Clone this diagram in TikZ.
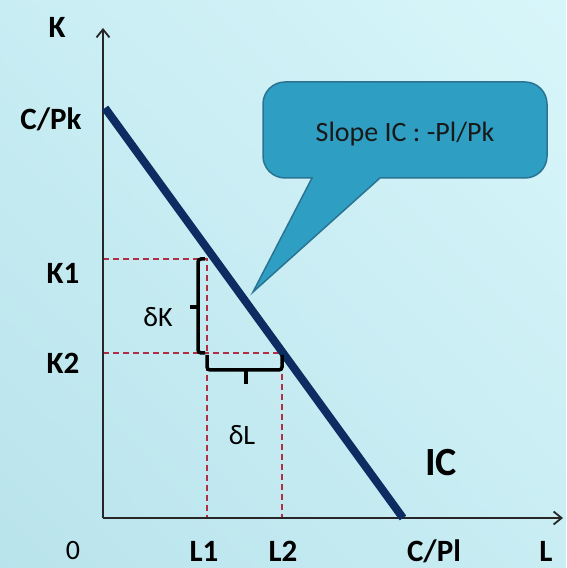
\documentclass[tikz,border=0pt]{standalone}
\usepackage{fontspec}
\setmainfont{Carlito}
\usetikzlibrary{arrows.meta,shadings}
\definecolor{bgdark}{HTML}{B9E3EC}
\definecolor{bglight}{HTML}{D8F6FA}
\definecolor{bgmid}{HTML}{C8EDF3}
\definecolor{icnavy}{HTML}{0C2C62}
\definecolor{guidered}{HTML}{B02E46}
\definecolor{calloutfill}{HTML}{2F9EC3}
\definecolor{calloutedge}{HTML}{2A7393}
\begin{document}
\begin{tikzpicture}[
  x=1pt, y=1pt,
  axis/.style={draw=black!85, line width=2pt, -{Straight Barb[length=8pt,width=13pt,line width=1.8pt]}},
  icline/.style={draw=icnavy, line width=8pt},
  guide/.style={draw=guidered, line width=1.2pt, dash pattern=on 6pt off 4pt},
  bracebar/.style={draw=black, line width=3.5pt, rounded corners=3pt},
  lbl/.style={font=\fontsize{31}{33}\selectfont\bfseries, inner sep=0pt},
  note/.style={font=\fontsize{28}{30}\selectfont, inner sep=0pt},
  callout/.style={fill=calloutfill, draw=calloutedge, line width=1.5pt}
]
\shade[lower left=bgdark, upper right=bglight, upper left=bgmid, lower right=bgmid]
  (0,0) rectangle (566,568);
\useasboundingbox (0,0) rectangle (566,568);

\coordinate (O) at (103,50);
\coordinate (ytop) at (103,540);
\coordinate (xend) at (563,50);
\coordinate (cpk) at (105,460);
\coordinate (cpl) at (403,50);
\coordinate (k1) at (103,309);
\coordinate (k2) at (103,215);
\coordinate (p1) at (207,309);
\coordinate (p2) at (282,215);
\coordinate (l1) at (207,50);
\coordinate (l2) at (282,50);

\draw[guide] (k1) -- (p1) -- (l1);
\draw[guide] (k2) -- (p2) -- (l2);

\draw[axis] (O) -- (ytop);
\draw[axis] (O) -- (xend);
\draw[icline] (cpk) -- (cpl);

\draw[bracebar] (205,309) -- (198,309) -- (198,215) -- (205,215);
\draw[bracebar, rounded corners=0pt] (198,261) -- (190,261);
\draw[bracebar] (207,213) -- (207,198) -- (282,198) -- (282,213);
\draw[bracebar, rounded corners=0pt] (246,198) -- (246,184);

\draw[callout] (312,390) -- (253,276) -- (380,390) [rounded corners=22pt] -- (547,390) -- (547,486)
  -- (263,486) -- (263,390) [sharp corners] -- cycle;
\node[note, text=black!90] (slope) at (405,434) {Slope IC : -Pl/Pk};

\node[lbl] (kname) at (57,541) {K};
\node[lbl] (cpkname) at (51,449) {C/Pk};
\node[lbl] (k1name) at (63,295) {K1};
\node[lbl] (k2name) at (63,205) {K2};
\node[note] (zero) at (73,17) {0};
\node[lbl] (l1name) at (204,17) {L1};
\node[lbl] (l2name) at (283,17) {L2};
\node[lbl] (cplname) at (434,17) {C/Pl};
\node[lbl] (lname) at (546,17) {L};
\node[lbl, font=\fontsize{40}{42}\selectfont\bfseries] (icname) at (441,105) {IC};
\node[note] (dk) at (158,251) {δK};
\node[note] (dl) at (242,133) {δL};
\end{tikzpicture}
\end{document}
